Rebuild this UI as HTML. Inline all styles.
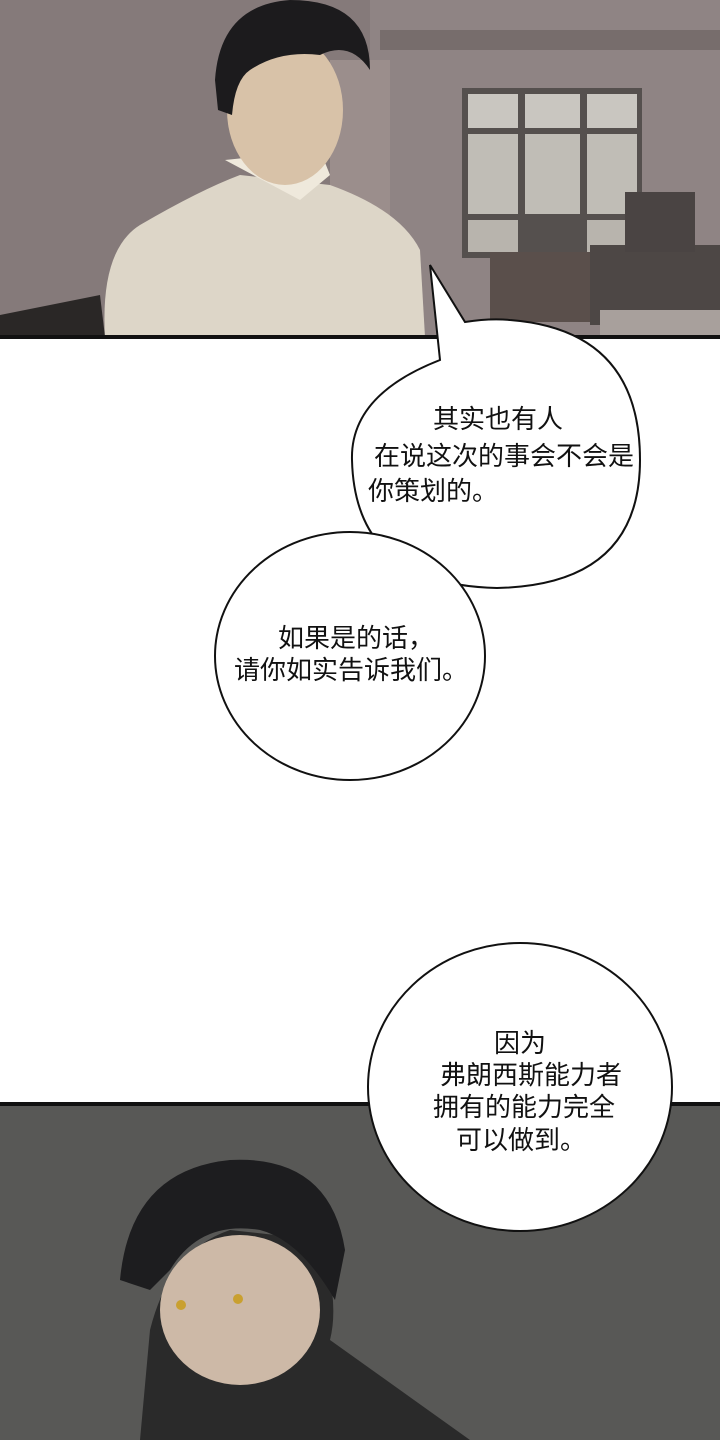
<!DOCTYPE html>
<html><head><meta charset="utf-8"><style>
html,body{margin:0;padding:0;width:720px;height:1440px;overflow:hidden;background:#fff}
svg{display:block}
text{font-family:"Liberation Sans","Noto Sans CJK SC",sans-serif;font-size:26px;fill:#111;text-anchor:middle}
</style></head><body>
<svg width="720" height="1440" viewBox="0 0 720 1440">
<rect x="0" y="0" width="720" height="337" fill="#857a7a"/>
<rect x="370" y="0" width="350" height="337" fill="#8f8484"/>
<rect x="380" y="30" width="340" height="20" fill="#776d6c"/>
<rect x="462" y="88" width="180" height="170" fill="#55504e"/>
<rect x="468" y="94" width="50" height="34" fill="#c9c6c0"/><rect x="525" y="94" width="55" height="34" fill="#c9c6c0"/><rect x="587" y="94" width="50" height="34" fill="#c9c6c0"/>
<rect x="468" y="134" width="50" height="80" fill="#c0bdb6"/><rect x="525" y="134" width="55" height="80" fill="#c0bdb6"/><rect x="587" y="134" width="50" height="80" fill="#c0bdb6"/>
<rect x="468" y="220" width="50" height="32" fill="#b8b4ad"/><rect x="587" y="220" width="50" height="32" fill="#b8b4ad"/>
<rect x="590" y="245" width="130" height="80" fill="#4d4745"/>
<rect x="625" y="192" width="70" height="60" fill="#4a4443"/>
<rect x="490" y="252" width="100" height="70" fill="#5a4f4b"/>
<rect x="600" y="310" width="120" height="27" fill="#a8a09c"/>
<rect x="330" y="60" width="60" height="200" fill="#9b8e8c"/>
<polygon points="0,315 100,295 105,337 0,337" fill="#2a2726"/>
<path d="M105,337 Q100,250 140,225 Q200,190 240,175 L330,185 Q400,210 420,250 L425,337 Z" fill="#ddd6c8"/>
<path d="M225,160 L300,200 L330,175 L320,150 Z" fill="#efe9dc"/>
<ellipse cx="285" cy="110" rx="58" ry="75" fill="#d8c2a8"/>
<path d="M215,80 Q220,5 290,0 Q370,0 370,70 Q350,40 320,55 Q280,50 250,70 Q235,80 232,115 L218,110 Z" fill="#1c1b1d"/>
<line x1="0" y1="337" x2="720" y2="337" stroke="#111" stroke-width="4"/>
<rect x="0" y="1103" width="720" height="337" fill="#585856"/>
<line x1="0" y1="1104" x2="720" y2="1104" stroke="#111" stroke-width="4"/>
<path d="M140,1440 L150,1330 Q170,1250 230,1230 L320,1240 Q340,1300 330,1340 L470,1440 Z" fill="#2a2a2a"/>
<ellipse cx="240" cy="1310" rx="80" ry="75" fill="#cdb9a7"/>
<path d="M120,1280 Q130,1170 230,1160 Q330,1155 345,1250 L335,1300 Q300,1240 260,1230 Q200,1220 170,1270 L150,1290 Z" fill="#1d1d1f"/>
<circle cx="181" cy="1305" r="5" fill="#c9a030"/><circle cx="238" cy="1299" r="5" fill="#c9a030"/>
<g fill="#fff" stroke="#111" stroke-width="2">
<path d="M440,360 L430,265 L465,322 Q490,318 510,320 Q640,330 640,460 Q640,585 497,588 Q355,585 352,460 Q350,395 440,360 Z"/>
<ellipse cx="350" cy="656" rx="135" ry="124"/>
<ellipse cx="520" cy="1087" rx="152" ry="144"/>
</g>
<text x="498" y="428">其实也有人</text>
<text x="504" y="465">在说这次的事会不会是</text>
<text x="433" y="500">你策划的。</text>
<text x="356" y="647">如果是的话，</text>
<text x="351" y="679">请你如实告诉我们。</text>
<text x="520" y="1052">因为</text>
<text x="531" y="1084">弗朗西斯能力者</text>
<text x="524" y="1116">拥有的能力完全</text>
<text x="521" y="1149">可以做到。</text>
</svg>
</body></html>
